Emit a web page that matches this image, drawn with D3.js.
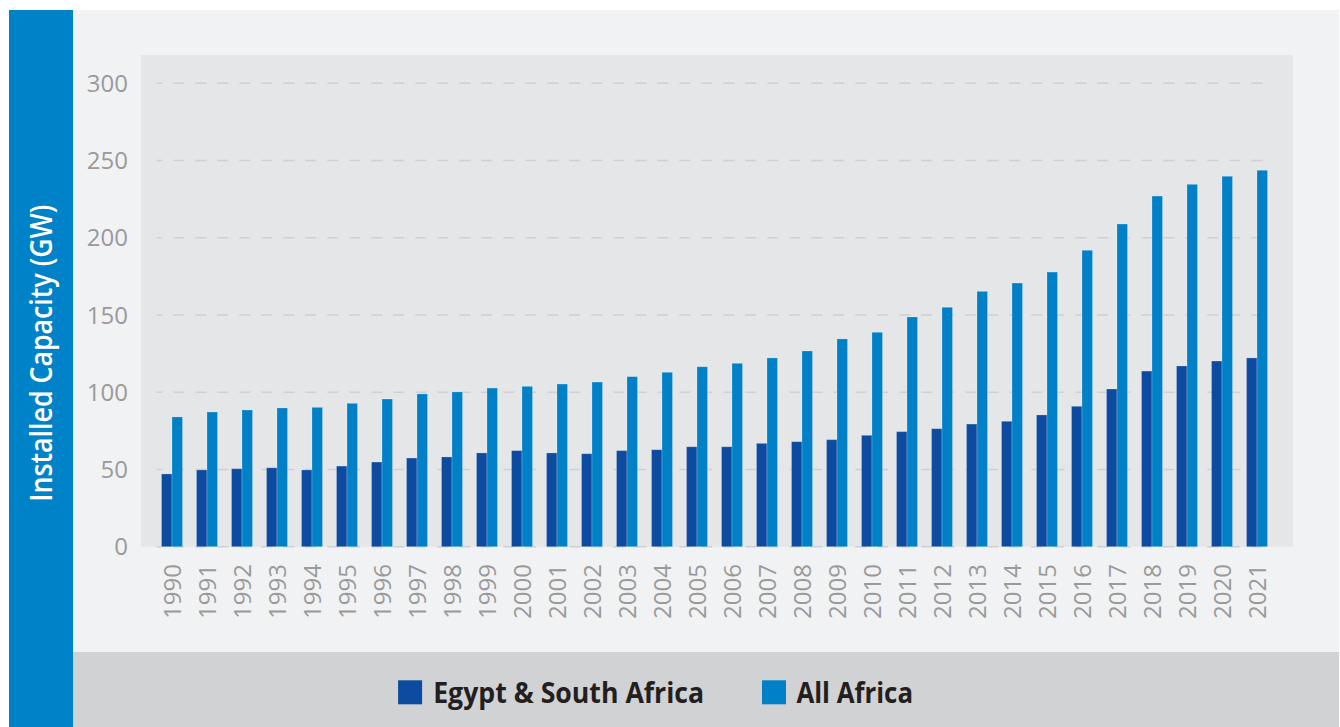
<!DOCTYPE html>
<html>
<head>
<meta charset="utf-8">
<script src="https://cdn.jsdelivr.net/npm/d3@7"></script>
<style>
  html, body { margin: 0; padding: 0; background: #ffffff; }
  svg { display: block; }
</style>
</head>
<body>
<svg id="chart" width="1340" height="727"></svg>
<script>
const years = ["1990","1991","1992","1993","1994","1995","1996","1997","1998","1999","2000","2001","2002","2003","2004","2005","2006","2007","2008","2009","2010","2011","2012","2013","2014","2015","2016","2017","2018","2019","2020","2021"];
const egyptSouthAfrica = [47.1,49.7,50.5,51.1,49.7,52.2,54.8,57.4,58.1,60.7,62.2,60.7,60.2,62.2,62.8,64.7,64.7,66.9,68,69.3,72.1,74.5,76.4,79.4,81.2,85.3,90.9,102.1,113.7,117,120.2,122.2];
const allAfrica = [84,87.2,88.5,89.8,90.2,92.8,95.6,98.9,100.2,102.7,103.8,105.3,106.6,110.1,112.9,116.5,118.7,122.2,126.7,134.5,138.8,148.7,155,165.3,170.7,177.8,191.9,208.9,227,234.6,239.8,243.7];
const yTicks = [0,50,100,150,200,250,300];
const seriesNames = ["Egypt & South Africa","All Africa"];
const axisTitle = "Installed Capacity (GW)";

const colors = { dark: "#0c4b9f", light: "#0080c6", side: "#0082c8" };

const svg = d3.select("#chart");

// Backgrounds
svg.append("rect").attr("x", 73).attr("y", 10).attr("width", 1266).attr("height", 642).attr("fill", "#f1f2f4");
svg.append("rect").attr("x", 73).attr("y", 652).attr("width", 1266).attr("height", 75).attr("fill", "#d1d2d4");
svg.append("rect").attr("x", 9).attr("y", 10).attr("width", 64).attr("height", 717).attr("fill", colors.side);
svg.append("rect").attr("x", 141).attr("y", 55).attr("width", 1152).attr("height", 491.7).attr("fill", "#e5e6e8");

// Scales
const y = d3.scaleLinear().domain([0, 300]).range([546.7, 83.3]);
const x = d3.scaleBand().domain(years).range([154.5, 1274.5]).paddingInner(0.4).paddingOuter(0.2);
const sub = d3.scaleBand().domain(seriesNames).range([0, x.bandwidth()]);

// Gridlines
svg.append("g").selectAll("line").data(yTicks).join("line")
  .attr("x1", 156.7).attr("x2", 1267.7)
  .attr("y1", d => y(d)).attr("y2", d => y(d))
  .attr("stroke", "#cfd0d3").attr("stroke-width", 1.6)
  .attr("stroke-dasharray", "11,11").attr("stroke-dashoffset", 5.4);

// Y tick labels
svg.append("g").selectAll("text").data(yTicks).join("text")
  .attr("x", 128).attr("y", d => y(d)).attr("dy", "0.36em")
  .attr("text-anchor", "end")
  .attr("font-family", "'Open Sans', sans-serif").attr("font-size", 24)
  .attr("fill", "#9a9a9a")
  .text(d => d);

// X tick labels (rotated)
svg.append("g").selectAll("text").data(years).join("text")
  .attr("transform", d => `translate(${x(d) + x.bandwidth() / 2},564) rotate(-90)`)
  .attr("dy", "0.36em")
  .attr("text-anchor", "end")
  .attr("font-family", "'Open Sans', sans-serif").attr("font-size", 24)
  .attr("fill", "#9a9a9a")
  .text(d => d);

// Bars
const rows = years.map((yr, i) => ({ year: yr, values: [
  { key: seriesNames[0], v: egyptSouthAfrica[i], c: colors.dark },
  { key: seriesNames[1], v: allAfrica[i], c: colors.light }
]}));

const groups = svg.append("g").selectAll("g").data(rows).join("g")
  .attr("transform", d => `translate(${x(d.year)},0)`);
groups.selectAll("rect").data(d => d.values).join("rect")
  .attr("x", d => sub(d.key))
  .attr("width", sub.bandwidth())
  .attr("y", d => y(d.v))
  .attr("height", d => y(0) - y(d.v))
  .attr("fill", d => d.c)
  .attr("stroke", "rgba(255,255,255,0.22)").attr("stroke-width", 1);

// Axis title
svg.append("text")
  .attr("transform", "translate(52,501.7) rotate(-90)")
  .attr("font-family", "'Open Sans', sans-serif").attr("font-weight", 600)
  .attr("font-size", 30).attr("fill", "#ffffff")
  .attr("textLength", 297).attr("lengthAdjust", "spacingAndGlyphs")
  .text(axisTitle);

// Legend
const legendItems = [
  { name: seriesNames[0], c: colors.dark, sx: 398.1, tx: 433.2, len: 271 },
  { name: seriesNames[1], c: colors.light, sx: 762, tx: 796.4, len: 116.6 }
];
const lg = svg.append("g").selectAll("g").data(legendItems).join("g");
lg.append("rect").attr("x", d => d.sx).attr("y", 680.3).attr("width", 24).attr("height", 24).attr("fill", d => d.c);
lg.append("text").attr("x", d => d.tx).attr("y", 703.2)
  .attr("font-family", "'Open Sans', sans-serif").attr("font-weight", 700)
  .attr("font-size", 29).attr("fill", "#231f20")
  .attr("textLength", d => d.len).attr("lengthAdjust", "spacingAndGlyphs")
  .text(d => d.name);
</script>
</body>
</html>
